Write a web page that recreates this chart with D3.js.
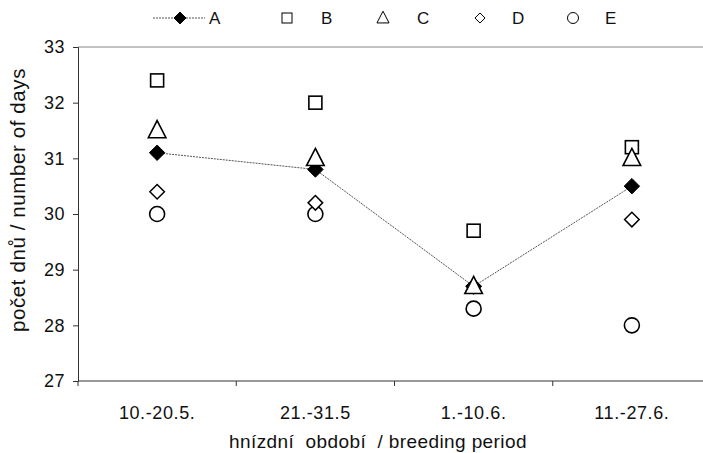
<!DOCTYPE html>
<html>
<head>
<meta charset="utf-8">
<script src="https://cdn.jsdelivr.net/npm/d3@7"></script>
<style>
  body { margin: 0; background: #fff; }
  text { font-family: "Liberation Sans", Arial, sans-serif; fill: #111; }
</style>
</head>
<body>
<div id="chart"></div>
<script>
const width = 703, height = 453;
const margin = {top: 47, right: -8, bottom: 72, left: 78};

const periods = ['10.-20.5.', '21.-31.5', '1.-10.6.', '11.-27.6.'];
const seriesNames = ['A', 'B', 'C', 'D', 'E'];
const valuesA = [31.1, 30.8, 28.7, 30.5];
const valuesB = [32.4, 32.0, 29.7, 31.2];
const valuesC = [31.5, 31.0, 28.7, 31.0];
const valuesD = [30.4, 30.2, 28.7, 29.9];
const valuesE = [30.0, 30.0, 28.3, 28.0];
const yTicks = [27, 28, 29, 30, 31, 32, 33];

const svg = d3.select('#chart').append('svg')
  .attr('width', width)
  .attr('height', height);

const x = d3.scaleBand()
  .domain(periods)
  .range([margin.left, width - margin.right]);

const y = d3.scaleLinear()
  .domain([27, 33])
  .range([height - margin.bottom, margin.top]);

// top border of plot area
svg.append('line')
  .attr('x1', margin.left).attr('x2', width)
  .attr('y1', margin.top).attr('y2', margin.top)
  .style('stroke', '#888').style('stroke-width', 1);

// y axis
const yAxis = svg.append('g')
  .attr('transform', `translate(${margin.left},0)`)
  .call(d3.axisLeft(y).tickValues(yTicks).tickSize(5).tickPadding(8).tickFormat(d3.format('d')));
yAxis.select('.domain').style('stroke', '#333');
yAxis.selectAll('.tick line').style('stroke', '#333');
yAxis.selectAll('text')
  .style('font-size', '18px')
  .style('letter-spacing', '0.5px')
  .style('font-family', '"Liberation Sans", Arial, sans-serif')
  .attr('fill', '#111');

// x axis: ticks between categories (band boundaries)
const xAxis = svg.append('g')
  .attr('transform', `translate(0,${height - margin.bottom})`);
xAxis.append('line')
  .attr('x1', margin.left).attr('x2', width)
  .style('stroke', '#333');
periods.forEach((p, i) => {
  xAxis.append('line')
    .attr('x1', x(p)).attr('x2', x(p))
    .attr('y1', 0).attr('y2', 5)
    .style('stroke', '#333');
  xAxis.append('text')
    .attr('x', x(p) + x.bandwidth() / 2)
    .attr('y', 38)
    .attr('text-anchor', 'middle')
    .style('font-size', '18px')
    .style('letter-spacing', '0.6px')
    .text(p);
});

// axis titles
svg.append('text')
  .attr('transform', 'translate(25,200)rotate(-90)')
  .attr('text-anchor', 'middle')
  .style('font-size', '20.5px')
  .style('letter-spacing', '0.6px')
  .text('počet dnů / number of days');

svg.append('text')
  .attr('x', 378)
  .attr('y', 448)
  .attr('text-anchor', 'middle')
  .style('font-size', '19px')
  .style('letter-spacing', '0.4px')
  .style('white-space', 'pre')
  .text('hnízdní  období  / breeding period');

// marker drawing
const cx = p => x(p) + x.bandwidth() / 2;

function marker(g, name, px, py, s) {
  if (name === 'A') {
    g.append('path')
      .attr('d', d3.symbol(d3.symbolDiamond2, s * s * 0.9)())
      .attr('transform', `translate(${px},${py})`)
      .style('fill', '#000').style('stroke', '#000').style('stroke-width', 1);
  } else if (name === 'B') {
    g.append('rect')
      .attr('x', px - s / 2).attr('y', py - s / 2)
      .attr('width', s).attr('height', s)
      .style('fill', '#fff').style('stroke', '#000').style('stroke-width', 1.6);
  } else if (name === 'C') {
    g.append('path')
      .attr('d', `M${px},${py - s * 0.62}L${px + s * 0.55},${py + s * 0.45}L${px - s * 0.55},${py + s * 0.45}Z`)
      .style('fill', '#fff').style('stroke', '#000').style('stroke-width', 1.6);
  } else if (name === 'D') {
    g.append('path')
      .attr('d', d3.symbol(d3.symbolDiamond2, s * s * 0.8)())
      .attr('transform', `translate(${px},${py})`)
      .style('fill', '#fff').style('stroke', '#000').style('stroke-width', 1.5);
  } else {
    g.append('circle')
      .attr('cx', px).attr('cy', py).attr('r', s / 2)
      .style('fill', '#fff').style('stroke', '#000').style('stroke-width', 1.6);
  }
}

// dotted line for A
const line = d3.line().x((d, i) => cx(periods[i])).y(d => y(d));
svg.append('path')
  .datum(valuesA)
  .attr('d', line)
  .style('fill', 'none')
  .style('stroke', '#555')
  .style('stroke-width', 1)
  .style('stroke-dasharray', '2,1');

const plot = svg.append('g');
const allSeries = {A: valuesA, B: valuesB, C: valuesC, D: valuesD, E: valuesE};
const sizes = {A: 13, B: 13, C: 16, D: 13, E: 15};
['E', 'D', 'A', 'B', 'C'].forEach(name => {
  allSeries[name].forEach((v, i) => {
    marker(plot, name, cx(periods[i]), y(v), sizes[name]);
  });
});

// legend
const legend = svg.append('g');
const legendY = 18;
const legendX = [180, 287, 383, 480, 573];
const legendTextX = [209, 321, 417, 512, 605];
legend.append('line')
  .attr('x1', 153).attr('x2', 205)
  .attr('y1', legendY).attr('y2', legendY)
  .style('stroke', '#555').style('stroke-dasharray', '2,1');
seriesNames.forEach((name, i) => {
  const lg = legend.append('g');
  const s = {A: 10, B: 10, C: 11, D: 9, E: 11}[name];
  marker(lg, name, legendX[i], legendY, s);
  lg.selectAll('rect,path,circle').style('stroke-width', 1);
  legend.append('text')
    .attr('x', legendTextX[i])
    .attr('y', legendY + 6)
    .style('font-size', '17px')
    .text(name);
});
</script>
</body>
</html>
